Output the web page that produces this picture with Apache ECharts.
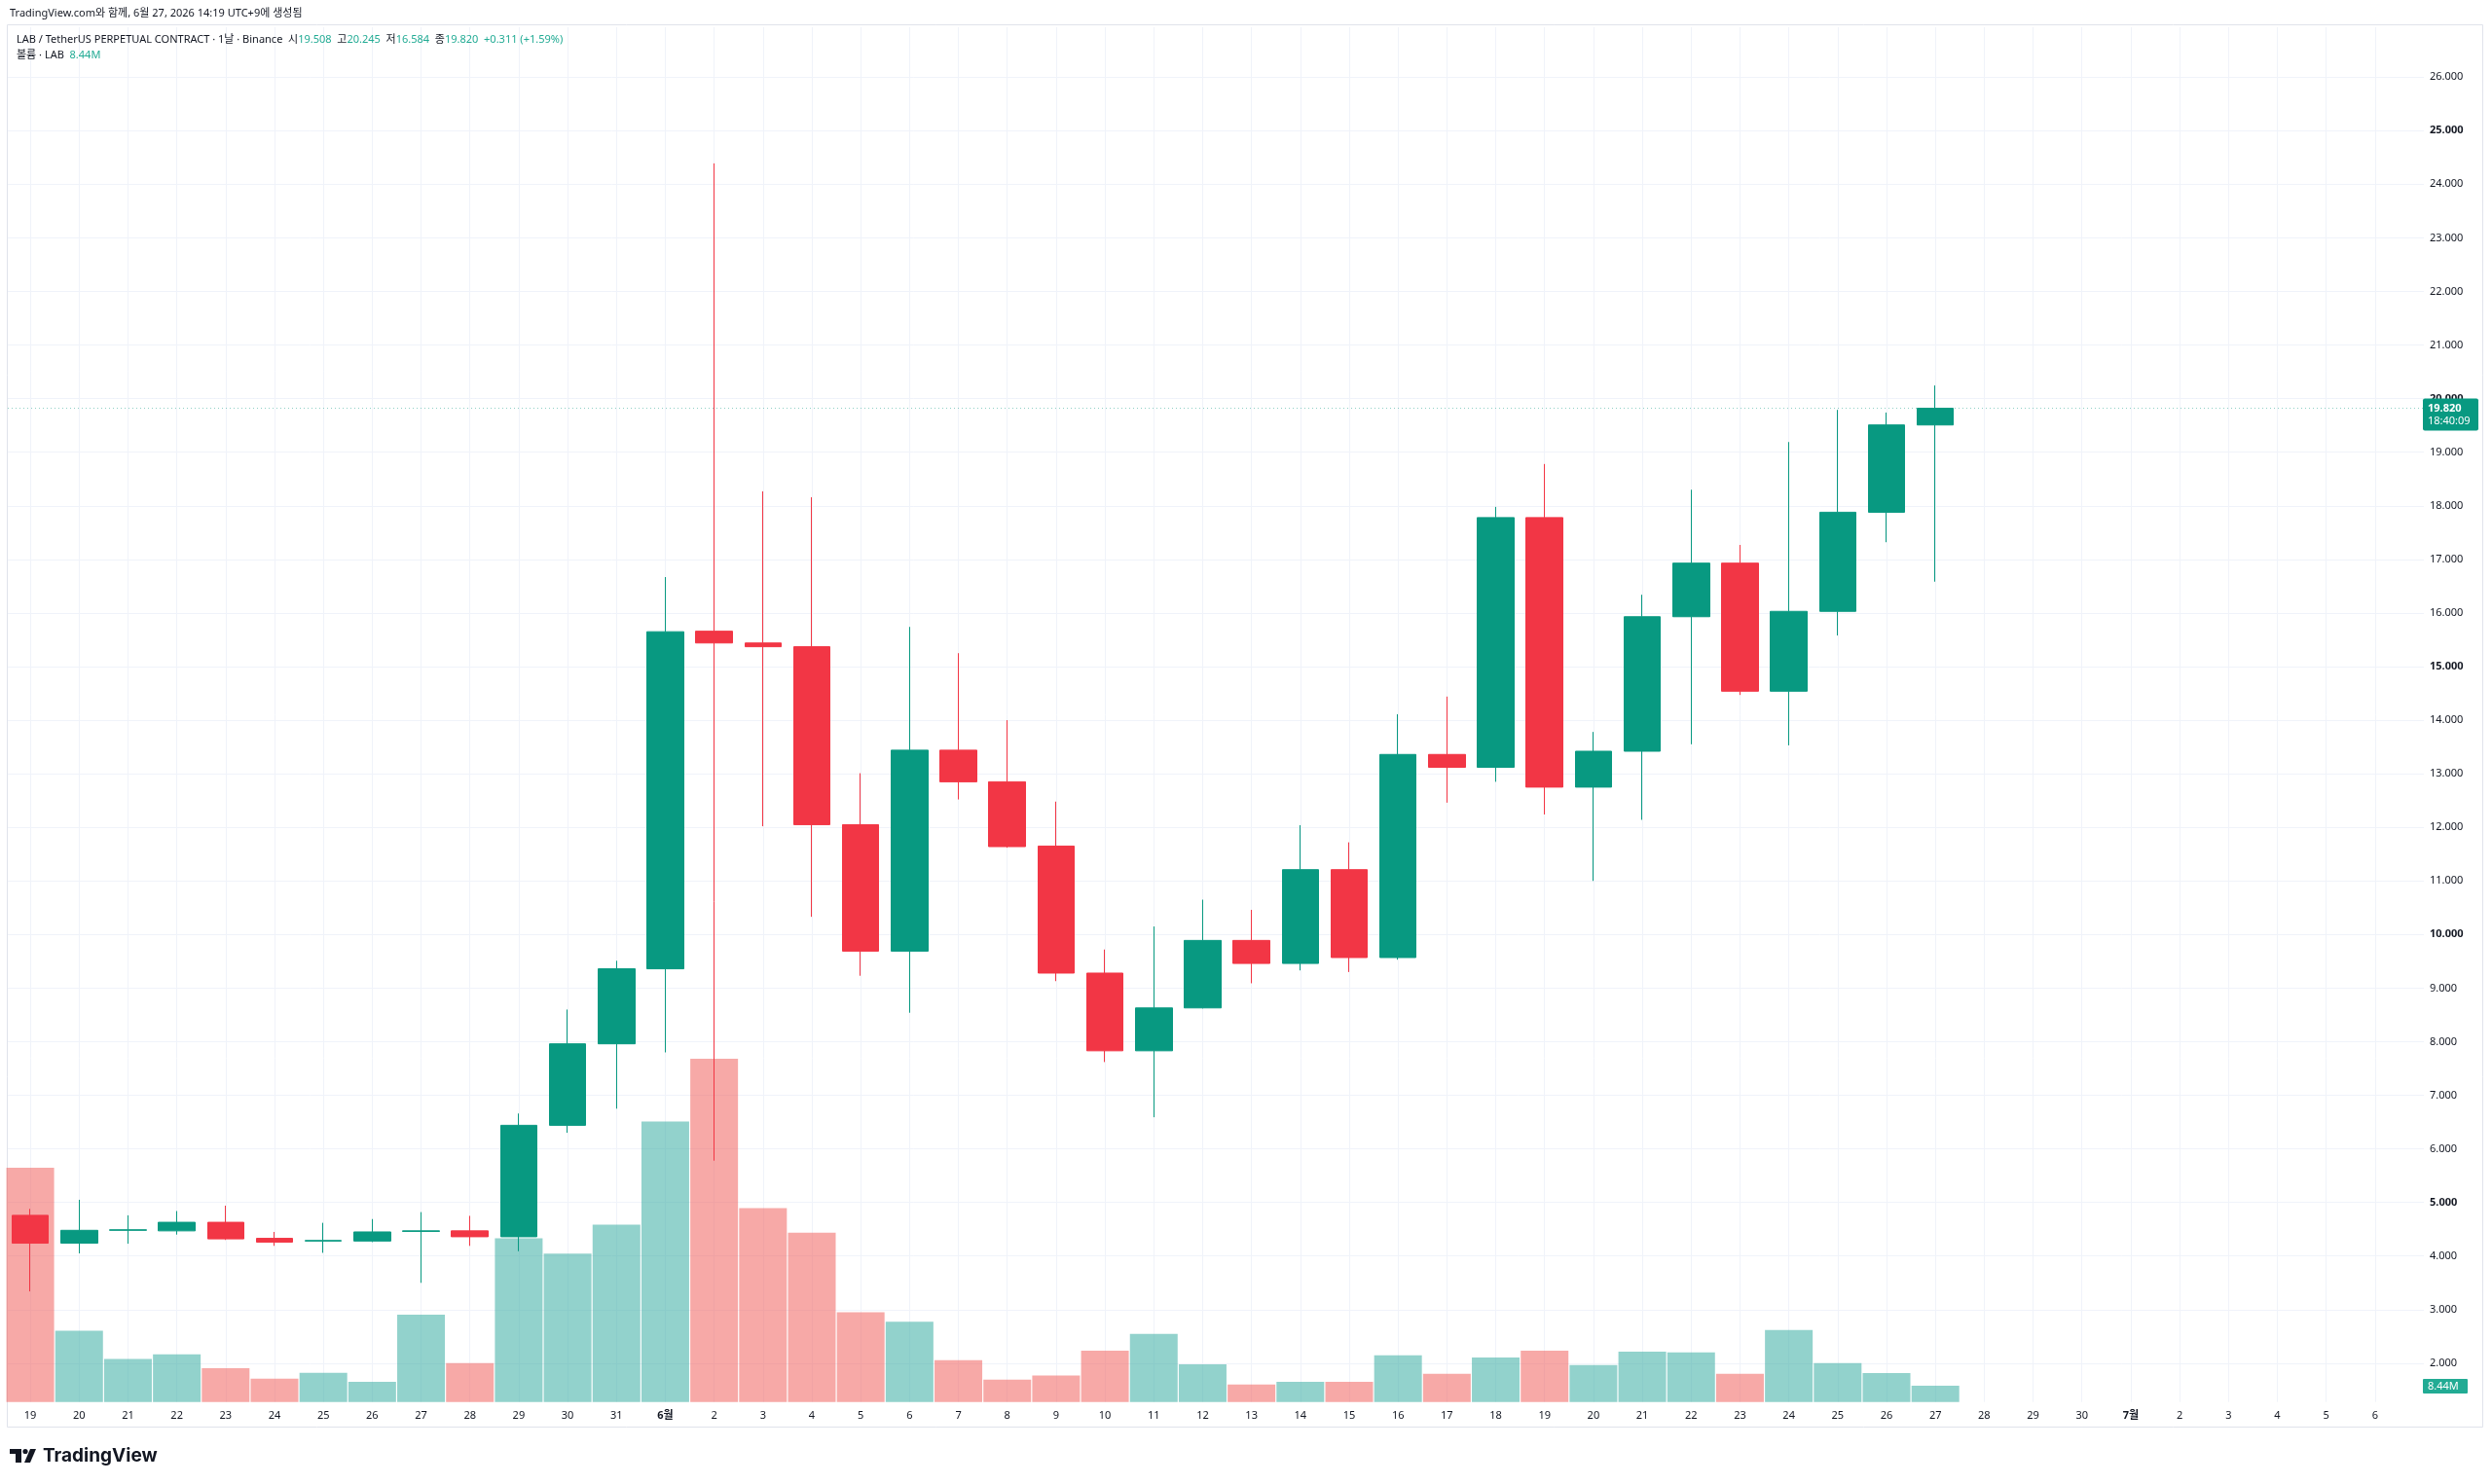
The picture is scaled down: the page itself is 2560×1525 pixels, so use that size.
<!DOCTYPE html>
<html>
<head>
<meta charset="utf-8">
<title>LAB / TetherUS PERPETUAL CONTRACT 1D</title>
<script src="https://cdn.jsdelivr.net/npm/echarts@6.0.0/dist/echarts.min.js"></script>
<style>
html, body { margin: 0; padding: 0; background: #ffffff; }
#chart { width: 2560px; height: 1525px; }
</style>
</head>
<body>
<div id="chart"></div>
<script>
// x axis labels, one per daily slot (May 19 .. Jul 6), future days have no candle
const dayLabels = ['19', '20', '21', '22', '23', '24', '25', '26', '27', '28', '29', '30', '31',
  '6월', '2', '3', '4', '5', '6', '7', '8', '9', '10', '11', '12', '13', '14', '15', '16', '17', '18',
  '19', '20', '21', '22', '23', '24', '25', '26', '27', '28', '29', '30',
  '7월', '2', '3', '4', '5', '6']

// daily OHLC, May 19 .. Jun 27
const opens = [4.76, 4.24, 4.48, 4.47, 4.63, 4.33, 4.28, 4.28, 4.46, 4.47,
  4.36, 6.44, 7.96, 9.36, 15.66, 15.44, 15.37, 12.05, 9.69, 13.44,
  12.85, 11.65, 9.28, 7.83, 8.63, 9.89, 9.46, 11.21, 9.57, 13.36,
  13.12, 17.78, 12.75, 13.42, 15.93, 16.93, 14.54, 16.03, 17.88, 19.508]
const closes = [4.24, 4.48, 4.49, 4.63, 4.32, 4.26, 4.29, 4.45, 4.47, 4.36,
  6.44, 7.96, 9.36, 15.65, 15.44, 15.37, 12.05, 9.69, 13.44, 12.85,
  11.64, 9.28, 7.83, 8.63, 9.89, 9.46, 11.21, 9.57, 13.36, 13.12,
  17.78, 12.75, 13.42, 15.93, 16.93, 14.54, 16.03, 17.88, 19.509, 19.820]
const lows = [3.34, 4.05, 4.23, 4.40, 4.30, 4.19, 4.06, 4.26, 3.50, 4.19,
  4.09, 6.30, 6.75, 7.80, 5.78, 12.02, 10.33, 9.23, 8.54, 12.52,
  11.62, 9.13, 7.62, 6.59, 8.62, 9.09, 9.33, 9.30, 9.53, 12.46,
  12.85, 12.24, 11.00, 12.14, 13.55, 14.47, 13.53, 15.58, 17.32, 16.584]
const highs = [4.88, 5.05, 4.76, 4.84, 4.94, 4.45, 4.62, 4.69, 4.82, 4.75,
  6.66, 8.60, 9.51, 16.67, 24.39, 18.27, 18.16, 13.01, 15.74, 15.25,
  14.00, 12.48, 9.72, 10.15, 10.65, 10.46, 12.04, 11.72, 14.11, 14.44,
  17.98, 18.78, 13.78, 16.34, 18.30, 17.27, 19.19, 19.79, 19.74, 20.245]

// volume in millions of LAB
const volumes = [121.7, 37.0, 22.4, 24.7, 17.5, 12.1, 15.2, 10.4, 45.3, 20.2,
  85.0, 77.1, 92.1, 145.6, 178.3, 100.7, 87.9, 46.6, 41.7, 21.7,
  11.6, 13.8, 26.6, 35.4, 19.5, 9.1, 10.4, 10.4, 24.2, 14.6,
  23.1, 26.6, 19.2, 26.1, 25.8, 14.6, 37.4, 20.2, 15.0, 8.44]

const priceTicks = [2, 3, 4, 5, 6, 7, 8, 9, 10, 11, 12, 13, 14, 15, 16, 17, 18, 19, 20, 21, 22, 23, 24, 25, 26]

const UP = '#089981'
const DOWN = '#f23645'
const VOL_UP = 'rgba(38,166,154,0.5)'
const VOL_DOWN = 'rgba(239,83,80,0.5)'
const TEXT = '#131722'
const GRIDLINE = '#f0f3fa'
const FONT = '"Noto Sans", "Noto Sans CJK KR", sans-serif'

const slots = dayLabels.map((d, i) => i)
const candleData = opens.map((o, i) => [i, o, closes[i], lows[i], highs[i]])
const volumeData = volumes.map((v, i) => ({
  value: [i, v],
  itemStyle: { color: closes[i] >= opens[i] ? VOL_UP : VOL_DOWN }
}))

const chart = echarts.init(document.getElementById('chart'))

const option = {
  animation: false,
  backgroundColor: '#ffffff',
  textStyle: { fontFamily: FONT },
  grid: {
    left: 8,
    right: 70,
    top: 28,
    bottom: 84.3,
    outerBoundsMode: 'none',
    containLabel: false
  },
  xAxis: {
    type: 'value',
    min: -0.46,
    max: 49,
    axisLine: { show: false },
    axisTick: { show: false, customValues: slots },
    splitLine: { show: true, lineStyle: { color: GRIDLINE, width: 1 } },
    axisLabel: {
      customValues: slots,
      margin: 9,
      color: TEXT,
      fontSize: 11,
      fontFamily: FONT,
      formatter: function (v) {
        const s = dayLabels[Math.round(v)] || ''
        return s.indexOf('월') >= 0 ? '{m|' + s + '}' : s
      },
      rich: { m: { fontWeight: 'bold', fontSize: 11, color: TEXT, fontFamily: FONT } }
    }
  },
  yAxis: [
    {
      type: 'value',
      position: 'right',
      min: 1.277,
      max: 26.93,
      scale: true,
      axisLine: { show: false },
      axisTick: { show: false, customValues: priceTicks },
      splitLine: { show: true, lineStyle: { color: GRIDLINE, width: 1 } },
      axisLabel: {
        customValues: priceTicks,
        margin: 6,
        color: TEXT,
        fontSize: 11,
        fontFamily: FONT,
        formatter: function (v) {
          const s = v.toFixed(3)
          return v % 5 === 0 ? '{b|' + s + '}' : s
        },
        rich: { b: { fontWeight: 'bold', fontSize: 11, color: TEXT, fontFamily: FONT } }
      }
    },
    {
      type: 'value',
      min: 0,
      max: 714,
      show: false,
      splitLine: { show: false }
    }
  ],
  series: [
    {
      name: '볼륨',
      type: 'bar',
      yAxisIndex: 1,
      barWidth: 49,
      data: volumeData,
      z: 1
    },
    {
      name: 'LAB',
      type: 'candlestick',
      yAxisIndex: 0,
      barWidth: 38,
      data: candleData,
      z: 3,
      itemStyle: {
        color: UP,
        color0: DOWN,
        borderColor: UP,
        borderColor0: DOWN,
        borderWidth: 1
      },
      markLine: {
        silent: true,
        symbol: 'none',
        label: { show: false },
        lineStyle: { color: UP, type: [1, 3], width: 1, opacity: 0.45 },
        data: [{ yAxis: closes[closes.length - 1] }]
      }
    }
  ]
}

chart.setOption(option)

const drawOverlay = () => {
  const n = closes.length - 1
  const last = closes[n]
  const change = last - closes[n - 1]
  const pct = change / closes[n - 1] * 100
  const sign = change >= 0 ? '+' : ''
  const py = chart.convertToPixel({ yAxisIndex: 0 }, last)
  const vy = chart.convertToPixel({ yAxisIndex: 1 }, volumes[n])

  const header2 = '{d|LAB / TetherUS PERPETUAL CONTRACT · 1날 · Binance  시}{g|' + opens[n].toFixed(3) +
    '}{d|  고}{g|' + highs[n].toFixed(3) + '}{d|  저}{g|' + lows[n].toFixed(3) +
    '}{d|  종}{g|' + last.toFixed(3) + '}{g|  ' + sign + change.toFixed(3) + ' (' + sign + pct.toFixed(2) + '%)}'

  chart.setOption({
    graphic: [
      {
        type: 'rect', z: 0, silent: true,
        shape: { x: 7.5, y: 25.5, width: 2543, height: 1441 },
        style: { fill: 'none', stroke: '#e0e3eb', lineWidth: 1 }
      },
      {
        type: 'text', z: 10,
        style: {
          x: 10, y: 14, text: 'TradingView.com와 함께, 6월 27, 2026 14:19 UTC+9에 생성됨',
          fill: TEXT, fontSize: 11, fontFamily: FONT, verticalAlign: 'middle'
        }
      },
      {
        type: 'text', z: 10,
        style: {
          x: 17, y: 41, text: header2, verticalAlign: 'middle',
          fontSize: 11, fontFamily: FONT,
          rich: {
            d: { fill: TEXT, color: TEXT, fontSize: 11, fontFamily: FONT },
            g: { fill: '#22ab94', color: '#22ab94', fontSize: 11, fontFamily: FONT }
          }
        }
      },
      {
        type: 'text', z: 10,
        style: {
          x: 17, y: 57, text: '{d|볼륨 · LAB  }{g|' + volumes[n].toFixed(2) + 'M}', verticalAlign: 'middle',
          fontSize: 11, fontFamily: FONT,
          rich: {
            d: { fill: TEXT, color: TEXT, fontSize: 11, fontFamily: FONT },
            g: { fill: '#22ab94', color: '#22ab94', fontSize: 11, fontFamily: FONT }
          }
        }
      },
      // last price box on the price scale
      {
        type: 'rect', z: 20,
        shape: { x: 2489, y: py - 10, width: 57, height: 33, r: 2 },
        style: { fill: UP }
      },
      {
        type: 'text', z: 21,
        style: {
          x: 2494, y: py, text: last.toFixed(3), fill: '#ffffff',
          fontSize: 11, fontWeight: 'bold', fontFamily: FONT, verticalAlign: 'middle'
        }
      },
      {
        type: 'text', z: 21,
        style: {
          x: 2494, y: py + 13, text: '18:40:09', fill: '#ffffff',
          fontSize: 11, fontFamily: FONT, verticalAlign: 'middle'
        }
      },
      // last volume box
      {
        type: 'rect', z: 20,
        shape: { x: 2489, y: vy - 7, width: 46, height: 15, r: 1 },
        style: { fill: '#22ab94' }
      },
      {
        type: 'text', z: 21,
        style: {
          x: 2494, y: vy + 0.5, text: volumes[n].toFixed(2) + 'M', fill: '#ffffff',
          fontSize: 11, fontFamily: FONT, verticalAlign: 'middle'
        }
      },
      // TradingView logo
      {
        type: 'group', z: 10,
        children: [
          { type: 'rect', shape: { x: 10, y: 1489, width: 12, height: 5 }, style: { fill: TEXT } },
          { type: 'rect', shape: { x: 16, y: 1489, width: 6, height: 14 }, style: { fill: TEXT } },
          { type: 'circle', shape: { cx: 26, cy: 1491.5, r: 2.6 }, style: { fill: TEXT } },
          { type: 'polygon', shape: { points: [[31, 1489], [37, 1489], [31, 1503], [25, 1503]] }, style: { fill: TEXT } },
          {
            type: 'text',
            style: {
              x: 44, y: 1496, text: 'TradingView', fill: TEXT,
              fontSize: 19, fontWeight: 'bold', fontFamily: 'Inter, "Noto Sans", sans-serif', verticalAlign: 'middle'
            }
          }
        ]
      }
    ]
  })
}

drawOverlay()
window.addEventListener('resize', () => chart.resize())
</script>
</body>
</html>
